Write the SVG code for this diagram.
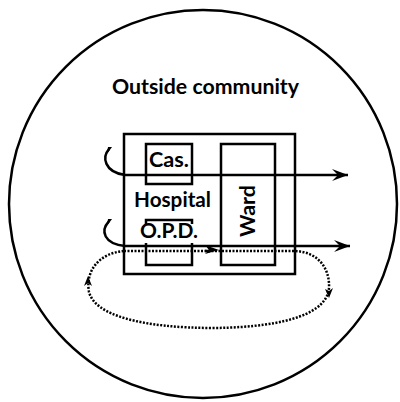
<svg xmlns="http://www.w3.org/2000/svg" width="400" height="402" viewBox="0 0 400 402">
<defs>
<style>
.ln{fill:none;stroke:#000;stroke-width:2.5}
.dot{fill:none;stroke:#000;stroke-width:2.5;stroke-dasharray:2 1.5}
.t{font-family:Lato,"Open Sans","Liberation Sans",sans-serif;font-size:21px;font-weight:bold;fill:#000}
</style>
<marker id="ah" viewBox="-16 -7 17 14" refX="0" refY="0" markerWidth="17" markerHeight="14" markerUnits="userSpaceOnUse" orient="auto">
<path d="M0,0 L-16,-6 L-10,0 L-16,6 Z" fill="#000"/>
</marker>
</defs>
<rect width="400" height="402" fill="#fff"/>
<g id="community">
<circle cx="203" cy="204" r="194" class="ln" stroke-width="2.8"/>
<text class="t" x="112" y="94" textLength="187" lengthAdjust="spacingAndGlyphs">Outside community</text>
</g>
<g id="hospital">
<rect x="124" y="134" width="171" height="140" class="ln"/>
<text class="t" x="134" y="207" textLength="77" lengthAdjust="spacingAndGlyphs">Hospital</text>
</g>
<g id="cas">
<rect x="146" y="144" width="46" height="40" class="ln"/>
<text class="t" x="149" y="167" textLength="40" lengthAdjust="spacingAndGlyphs">Cas.</text>
</g>
<g id="ward">
<rect x="221" y="144" width="54" height="121" class="ln"/>
<text class="t" transform="translate(255,237) rotate(-90)" x="0" y="0" textLength="52" lengthAdjust="spacingAndGlyphs">Ward</text>
</g>
<g id="opd">
<path d="M146,224 V220 H192 V224" class="ln"/>
<path d="M146,243 V265 H192 V243" class="ln"/>
<text class="t" x="140" y="238" textLength="58" lengthAdjust="spacingAndGlyphs">O.P.D.</text>
</g>
<g id="connectors">
<path d="M109,149 C102,157 104,172 125,175 L348,175" class="ln" marker-end="url(#ah)"/>
<path d="M109,221 C100,231 104,244 125,246 L350,246" class="ln" marker-end="url(#ah)"/>
<path d="M108,147 l4,0 l-5,7 z" fill="#000"/>
<path d="M108,219 l4,0 l-5,7 z" fill="#000"/>
<path d="M124,251 L295,251 C318,252 330,268 329,288 C327,312 290,327 215,328 C140,328 95,315 89,292 C85,270 100,253 124,251 Z" class="dot"/>
<path d="M205,251 L210,251" class="ln" stroke-width="2.2"/>
<path d="M219,250 L205,245 L209,250 L205,254 Z" fill="#000"/>
<path d="M88,276 L84,286 L88,283 L92,286 Z" fill="#000"/>
<path d="M329,298 L325,289 L329,291 L333,288 Z" fill="#000"/>
</g>
</svg>
